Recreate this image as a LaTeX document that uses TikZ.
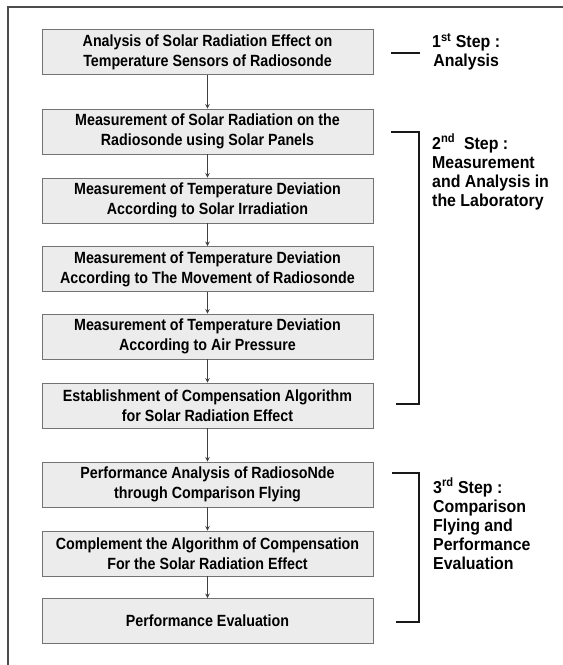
\documentclass[tikz,border=0pt]{standalone}
\usepackage{fontspec}
\newfontfamily\gul[FakeStretch=0.88]{Liberation Sans}
\newfontfamily\gulw[FakeStretch=0.92]{Liberation Sans}
\usepackage{tikz}
\usetikzlibrary{arrows.meta}

\begin{document}
\begin{tikzpicture}[x=1pt,y=-1pt,>={Stealth[length=4.5pt,width=4.5pt]},
  stepbox/.style={draw=black!55,fill=gray!15,line width=0.9pt,minimum width=331pt,minimum height=45pt,inner sep=0pt,align=center,font=\gul\bfseries\fontsize{16.2}{20}\selectfont},
  steptext/.style={anchor=north west,inner sep=0pt,font=\gulw\bfseries\fontsize{17.3}{19}\selectfont},
  flow/.style={->,black!75,line width=0.8pt},
  brace/.style={black!90,line width=1.6pt}]
\useasboundingbox (0,0) rectangle (563,665);
\draw[black!70,line width=1.5pt] (8,665) -- (8,7) -- (563,7);
\node[stepbox] (b1) at (207.5,52) {Analysis of Solar Radiation Effect on\\Temperature Sensors of Radiosonde};
\node[stepbox] (b2) at (207.5,131.5) {Measurement of Solar Radiation on the\\Radiosonde using Solar Panels};
\node[stepbox] (b3) at (207.5,200.5) {Measurement of Temperature Deviation\\According to Solar Irradiation};
\node[stepbox] (b4) at (207.5,269) {Measurement of Temperature Deviation\\According to The Movement of Radiosonde};
\node[stepbox] (b5) at (207.5,336.5) {Measurement of Temperature Deviation\\According to Air Pressure};
\node[stepbox] (b6) at (207.5,405.5) {Establishment of Compensation Algorithm\\for Solar Radiation Effect};
\node[stepbox] (b7) at (207.5,484.5) {Performance Analysis of RadiosoNde\\through Comparison Flying};
\node[stepbox] (b8) at (207.5,553.5) {Complement the Algorithm of Compensation\\For the Solar Radiation Effect};
\node[stepbox] (b9) at (207.5,621) {Performance Evaluation};
\foreach \a/\b in {b1/b2,b2/b3,b3/b4,b4/b5,b5/b6,b6/b7,b7/b8,b8/b9}
  \draw[flow] (\a) -- (\b);
\draw[brace] (391,53) -- (420,53);
\draw[brace] (391,132) -- (419,132) -- (419,404) -- (396,404);
\draw[brace] (392,473) -- (419,473) -- (419,622) -- (396,622);
\node[steptext,align=center] (s1) at (432,33) {1\textsuperscript{st} Step :\\Analysis};
\node[steptext,align=left] (s2) at (432,134) {2\textsuperscript{nd}\ \ Step :\\Measurement\\and Analysis in\\the Laboratory};
\node[steptext,align=left] (s3) at (433,478) {3\textsuperscript{rd} Step :\\Comparison\\Flying and\\Performance\\Evaluation};
\end{tikzpicture}
\end{document}
